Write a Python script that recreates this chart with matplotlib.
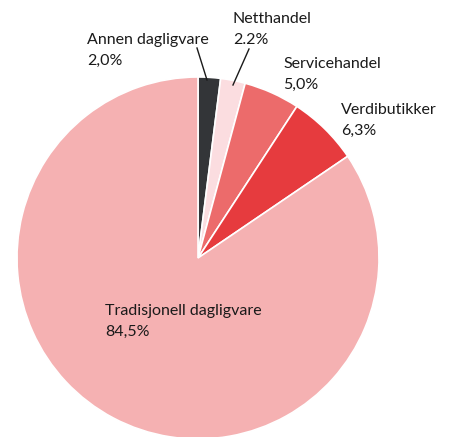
import matplotlib.pyplot as plt

labels = ["Annen dagligvare", "Netthandel", "Servicehandel", "Verdibutikker", "Tradisjonell dagligvare"]
values = [2.0, 2.2, 5.0, 6.3, 84.5]
value_text = ["2,0%", "2.2%", "5,0%", "6,3%", "84,5%"]
colors = ["#333538", "#fbdde0", "#ec6b6b", "#e63b3e", "#f5b1b2"]

W, H = 449, 437
fig = plt.figure(figsize=(W / 100, H / 100), dpi=100)
ax = fig.add_axes([0, 0, 1, 1])

cx, cy, r = 198, H - 258, 181
ax.pie(values, colors=colors, startangle=90, counterclock=False,
       center=(cx, cy), radius=r, frame=True,
       wedgeprops=dict(edgecolor="white", linewidth=1.2))
ax.set_xlim(0, W)
ax.set_ylim(0, H)
ax.set_aspect("equal")
ax.axis("off")

# label positions (pixel coords: left x, baseline of first line)
pos = [(87, 44), (233, 23), (283, 68), (341, 114), (105, 315)]
for lab, vt, (x, y) in zip(labels, value_text, pos):
    ax.text(x, H - y, lab, fontsize=11.5, family="Lato",
            color="#1a1a1a", va="baseline", ha="left")
    ax.text(x, H - y - 20.5, vt, fontsize=11.5, family="Lato",
            color="#1a1a1a", va="baseline", ha="left")

# leader lines
ax.plot([197, 207], [H - 48, H - 80], color="#1a1a1a", lw=1)
ax.plot([249, 233], [H - 49, H - 85], color="#1a1a1a", lw=1)

fig.savefig("out.png", dpi=100)
